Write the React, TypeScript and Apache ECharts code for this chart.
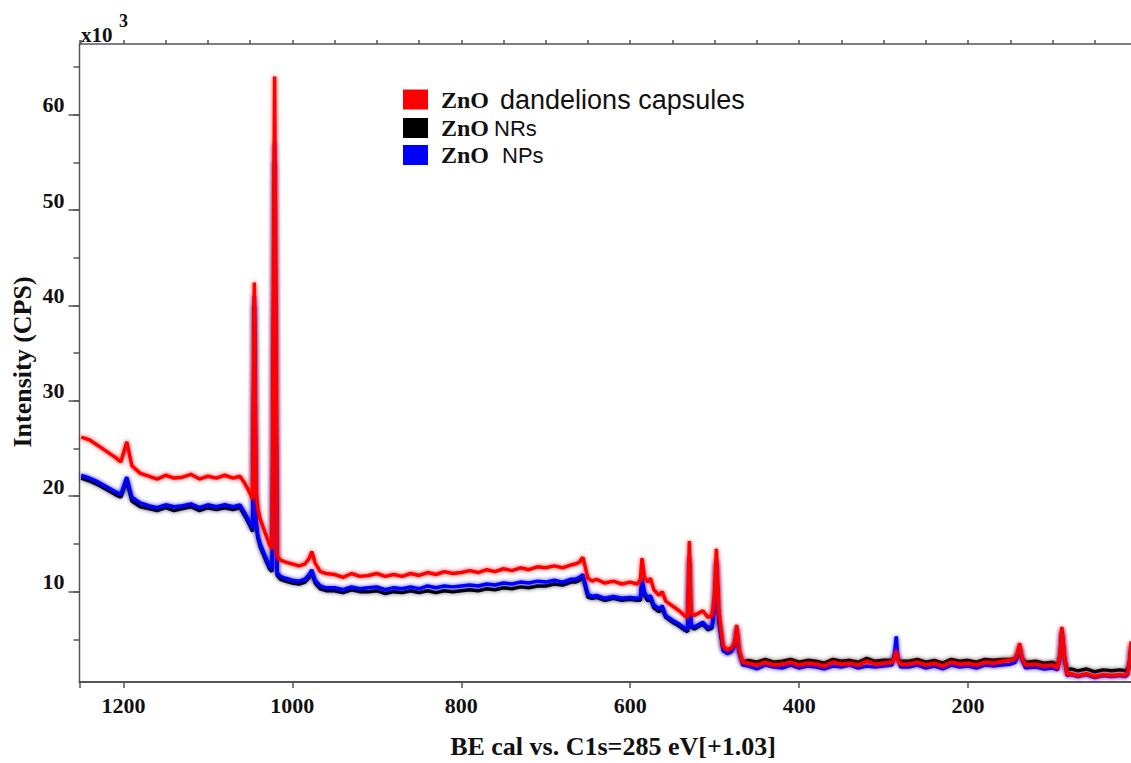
import React, { useEffect, useRef } from 'react';
import * as echarts from 'echarts';

// Binding energy (eV), shared by the three spectra
const energy = [
  // high-BE plateau
  1250, 1240, 1230, 1220, 1210, 1203, 1196, 1190, 1180, 1170, 1160, 1150, 1140, 1130, 1120, 1110, 1100, 1090, 1080, 1070, 1062,
  // Zn 2p region
  1056, 1050, 1047, 1045, 1043, 1041, 1038, 1032, 1027, 1024, 1021, 1018, 1014, 1008, 1000, 992, 985, 980, 977, 973, 967, 960,
  // mid plateau
  950, 940, 930, 920, 910, 900, 890, 880, 870, 860, 850, 840, 830, 820, 810, 800, 790, 780, 770, 760, 750, 740, 730, 720, 710,
  700, 690, 680, 670, 665, 660, 656, 650, 645, 640, 630, 620, 610, 600, 592,
  // Auger / O 1s region
  588, 586, 583, 579, 576, 572, 566, 562, 558, 550, 542, 536, 532, 530, 528, 524, 514, 508, 503, 500, 498, 495, 490, 485, 480,
  476, 474, 471, 467,
  // low-BE baseline
  460, 450, 440, 430, 420, 410, 400, 390, 380, 370, 360, 350, 340, 330, 320, 310, 300, 290, 287, 285, 283, 280,
  270, 260, 250, 240, 230, 220, 210, 200, 190, 180, 170, 160, 150, 144, 141, 139, 136, 132, 120, 110, 100,
  94, 91, 89, 86, 83, 78, 70, 60, 50, 40, 30, 20, 14, 11, 9, 7,
];

// Intensity, x10^3 CPS
const capsules = [
  26.2, 25.9, 25.3, 24.7, 24.1, 23.6, 25.7, 23.2, 22.4, 22.1, 21.8, 22.2, 21.9, 22.0, 22.3, 21.8, 22.1, 21.9, 22.2, 21.9, 22.1,
  21.3, 20.3, 19.7, 42.4, 20.6, 18.8, 17.6, 16.1, 14.9, 14.5, 64.0, 13.7, 13.3, 13.1, 12.9, 12.7, 12.9, 13.5, 14.2, 13.0, 12.1, 11.9,
  11.8, 11.5, 11.9, 11.6, 11.7, 11.9, 11.6, 11.8, 11.6, 11.9, 11.7, 12.0, 11.8, 12.1, 11.9, 12.0, 12.2, 12.0, 12.3, 12.1, 12.4, 12.2, 12.5, 12.3, 12.6,
  12.5, 12.7, 12.5, 12.8, 12.9, 13.1, 13.6, 11.4, 11.1, 11.3, 10.9, 11.1, 10.8, 11.0, 10.8,
  11.2, 13.5, 11.5, 11.0, 11.4, 10.2, 9.6, 10.0, 9.0, 8.5, 8.0, 7.5, 7.3, 15.3, 7.8, 7.5, 8.0, 7.3, 7.5, 10.0, 14.5, 8.0, 4.3, 3.9, 4.1,
  4.8, 6.5, 4.0, 2.6,
  2.5, 2.3, 2.6, 2.3, 2.4, 2.6, 2.3, 2.5, 2.4, 2.2, 2.6, 2.4, 2.5, 2.3, 2.7, 2.4, 2.5, 2.6, 3.1, 3.8, 2.8, 2.4,
  2.4, 2.6, 2.3, 2.5, 2.2, 2.6, 2.4, 2.5, 2.3, 2.6, 2.5, 2.7, 2.8, 3.0, 3.8, 4.6, 3.0, 2.3, 2.4, 2.2, 2.3,
  2.0, 3.6, 6.3, 3.4, 1.3, 1.4, 1.2, 1.4, 1.1, 1.3, 1.2, 1.3, 1.2, 1.4, 2.5, 4.8,
];

const nanorods = [
  21.9, 21.6, 21.2, 20.7, 20.2, 19.9, 21.6, 19.5, 18.9, 18.7, 18.5, 18.8, 18.5, 18.7, 18.9, 18.5, 18.8, 18.6, 18.8, 18.6, 18.8,
  17.9, 16.9, 16.3, 40.0, 17.2, 15.7, 14.7, 13.4, 12.4, 12.1, 55.0, 11.7, 11.3, 11.1, 10.9, 10.8, 11.0, 11.5, 12.0, 10.9, 10.3, 10.1,
  10.1, 9.9, 10.2, 10.0, 10.0, 10.1, 9.8, 10.0, 9.9, 10.1, 9.9, 10.1, 9.9, 10.1, 10.0, 10.1, 10.2, 10.1, 10.3, 10.2, 10.4, 10.3, 10.5, 10.4, 10.6,
  10.6, 10.8, 10.7, 11.0, 11.0, 11.2, 11.5, 9.4, 9.3, 9.4, 9.1, 9.3, 9.1, 9.2, 9.1,
  9.1, 11.0, 9.6, 9.0, 9.3, 8.3, 7.9, 8.2, 7.3, 6.8, 6.4, 6.0, 5.8, 13.2, 6.3, 6.1, 6.6, 6.0, 6.2, 8.8, 13.0, 6.8, 3.8, 3.6, 3.8,
  4.5, 6.0, 3.7, 2.6,
  2.8, 2.6, 2.9, 2.6, 2.7, 2.9, 2.6, 2.8, 2.7, 2.5, 2.9, 2.7, 2.8, 2.6, 3.0, 2.7, 2.8, 2.8, 3.1, 3.4, 2.9, 2.7,
  2.7, 2.9, 2.6, 2.8, 2.5, 2.9, 2.7, 2.8, 2.6, 2.9, 2.8, 2.9, 2.9, 3.0, 3.5, 4.2, 3.0, 2.6, 2.7, 2.5, 2.6,
  2.3, 3.4, 5.8, 3.2, 1.8, 1.9, 1.7, 1.9, 1.6, 1.8, 1.7, 1.8, 1.7, 1.9, 2.6, 4.2,
];

const nanoparticles = [
  22.2, 21.9, 21.5, 21.0, 20.5, 20.2, 22.0, 19.9, 19.3, 19.0, 18.8, 19.1, 18.9, 19.0, 19.2, 18.8, 19.1, 18.9, 19.1, 18.9, 19.1,
  18.2, 17.2, 16.6, 41.0, 17.5, 16.0, 15.0, 13.7, 12.7, 12.4, 57.0, 12.0, 11.6, 11.4, 11.2, 11.1, 11.3, 11.8, 12.3, 11.2, 10.6, 10.4,
  10.4, 10.2, 10.5, 10.3, 10.4, 10.5, 10.2, 10.4, 10.3, 10.5, 10.3, 10.6, 10.4, 10.6, 10.5, 10.6, 10.7, 10.6, 10.8, 10.7, 10.9, 10.8, 11.0, 10.9, 11.1,
  11.0, 11.2, 11.0, 11.3, 11.3, 11.5, 11.8, 9.7, 9.5, 9.6, 9.3, 9.5, 9.3, 9.4, 9.3,
  9.4, 11.4, 9.9, 9.3, 9.6, 8.6, 8.2, 8.5, 7.5, 7.0, 6.6, 6.2, 6.0, 13.7, 6.5, 6.3, 6.8, 6.2, 6.4, 9.0, 13.3, 7.0, 3.9, 3.5, 3.7,
  4.5, 6.2, 3.6, 2.3,
  2.2, 1.9, 2.3, 2.1, 2.0, 2.3, 2.0, 2.2, 2.1, 1.9, 2.2, 2.1, 2.3, 2.0, 2.2, 2.1, 2.2, 2.3, 3.6, 5.3, 3.0, 2.1,
  2.1, 2.3, 2.0, 2.2, 1.9, 2.3, 2.1, 2.2, 2.0, 2.3, 2.2, 2.3, 2.4, 2.6, 3.4, 4.3, 2.8, 2.0, 2.1, 1.9, 2.0,
  1.8, 3.4, 6.0, 3.1, 1.2, 1.3, 1.1, 1.3, 1.0, 1.2, 1.1, 1.2, 1.1, 1.3, 2.3, 4.4,
];

const seriesNames = ['ZnO dandelions capsules', 'ZnO NRs', 'ZnO NPs'];
const seriesColors = ['#ff0000', '#000000', '#0000ff'];
const seriesShadows = ['rgba(255,0,0,0.75)', 'rgba(0,0,0,0.6)', 'rgba(0,0,255,0.7)'];

const SERIF = "'Liberation Serif', 'Times New Roman', serif";
const SANS = "'Liberation Sans', Arial, sans-serif";
const AXIS_COLOR = '#555';

const toPairs = (vals: number[]) => energy.map((e, i) => [e, vals[i]]);

export default function App() {
  const ref = useRef<HTMLDivElement>(null);

  useEffect(() => {
    if (!ref.current) return;
    const chart = echarts.init(ref.current, undefined, { renderer: 'svg' });

    const plotLeft = 79.5;
    const plotTop = 44;
    const plotBottom = 682;
    const yMin = 0.53;
    const yMax = 67.4;
    const pxPerUnit = (plotBottom - plotTop) / (yMax - yMin);
    const yPix = (v: number) => plotBottom - (v - yMin) * pxPerUnit;

    const labelFont = { fontFamily: SERIF, fontWeight: 'bold' as const, fontSize: 22, color: '#111' };

    const option: any = {
      animation: false,
      backgroundColor: '#fff',
      grid: [
        {
          left: plotLeft, top: plotTop, width: 1057.5, height: plotBottom - plotTop,
          show: true, borderColor: AXIS_COLOR, borderWidth: 1.5, backgroundColor: 'transparent',
          outerBoundsMode: 'none', containLabel: false,
        },
        {
          left: plotLeft, top: yPix(60), width: 100, height: yPix(10) - yPix(60),
          outerBoundsMode: 'none', containLabel: false,
        },
        {
          left: plotLeft, top: yPix(65), width: 100, height: yPix(5) - yPix(65),
          outerBoundsMode: 'none', containLabel: false,
        },
      ],
      xAxis: [
        {
          gridIndex: 0, type: 'value', inverse: true, min: 0, max: 1252, interval: 200,
          axisLine: { show: true, lineStyle: { color: AXIS_COLOR, width: 2 } },
          axisTick: { show: true, length: 6, lineStyle: { color: AXIS_COLOR, width: 1.5 } },
          axisLabel: {
            ...labelFont, margin: 12,
            formatter: (v: number) => (v > 0 && v % 200 === 0 ? String(v) : ''),
          },
          splitLine: { show: false },
        },
        {
          gridIndex: 0, type: 'value', inverse: true, min: 0, max: 1252, interval: 50,
          axisLine: { show: false },
          axisTick: { show: true, length: 4, lineStyle: { color: AXIS_COLOR, width: 1.5 } },
          axisLabel: { show: false },
          splitLine: { show: false },
        },
        { gridIndex: 1, type: 'value', show: false, min: 0, max: 1 },
        { gridIndex: 2, type: 'value', show: false, min: 0, max: 1 },
      ],
      yAxis: [
        {
          gridIndex: 0, type: 'value', min: yMin, max: yMax,
          axisLine: { show: true, lineStyle: { color: AXIS_COLOR, width: 2 } },
          axisTick: { show: false }, axisLabel: { show: false }, splitLine: { show: false },
        },
        {
          gridIndex: 1, type: 'value', min: 10, max: 60, interval: 10,
          axisLine: { show: false },
          axisTick: { show: true, length: 11, lineStyle: { color: AXIS_COLOR, width: 1.5 } },
          axisLabel: { ...labelFont, margin: 15, verticalAlign: 'bottom', lineHeight: 20 },
          splitLine: { show: false },
        },
        {
          gridIndex: 2, type: 'value', min: 5, max: 65, interval: 5,
          axisLine: { show: false },
          axisTick: { show: true, length: 6, lineStyle: { color: AXIS_COLOR, width: 1.5 } },
          axisLabel: { show: false },
          splitLine: { show: false },
        },
      ],
      legend: {
        orient: 'vertical', left: 403, top: 86, padding: 0,
        itemWidth: 25, itemHeight: 20, itemGap: 3,
        icon: 'rect', selectedMode: false,
        data: seriesNames,
        formatter: (name: string) => {
          const rest = name.replace('ZnO ', '');
          const key = rest === 'NRs' ? 'rods' : rest === 'NPs' ? 'parts' : 'caps';
          return `{zno|ZnO}{${key}|${rest}}`;
        },
        textStyle: {
          lineHeight: 20,
          rich: {
            zno: { fontFamily: SERIF, fontWeight: 'bold', fontSize: 24, lineHeight: 20, color: '#111', padding: [0, 0, 0, 8] },
            caps: { fontFamily: SANS, fontSize: 27, lineHeight: 20, color: '#111', padding: [0, 0, 0, 11] },
            rods: { fontFamily: SANS, fontSize: 22, lineHeight: 20, color: '#111', padding: [0, 0, 0, 5] },
            parts: { fontFamily: SANS, fontSize: 22, lineHeight: 20, color: '#111', padding: [0, 0, 0, 13] },
          },
        },
      },
      graphic: [
        {
          type: 'text', x: 22, y: 362, rotation: Math.PI / 2,
          style: { text: 'Intensity (CPS)', fontFamily: SERIF, fontWeight: 'bold', fontSize: 26, fill: '#111', align: 'center', verticalAlign: 'middle' },
        },
        {
          type: 'text', x: 613, y: 746,
          style: { text: 'BE cal vs. C1s=285 eV[+1.03]', fontFamily: SERIF, fontWeight: 'bold', fontSize: 26, fill: '#111', align: 'center', verticalAlign: 'middle' },
        },
        {
          type: 'text', x: 81, y: 45,
          style: { text: 'x10', fontFamily: SERIF, fontWeight: 'bold', fontSize: 21, fill: '#111', align: 'left', verticalAlign: 'bottom' },
        },
        {
          type: 'text', x: 119, y: 12,
          style: { text: '3', fontFamily: SERIF, fontWeight: 'bold', fontSize: 18, fill: '#111', align: 'left', verticalAlign: 'top' },
        },
      ],
      series: [
        { name: seriesNames[1], vals: nanorods, color: seriesColors[1], shadow: seriesShadows[1] },
        { name: seriesNames[2], vals: nanoparticles, color: seriesColors[2], shadow: seriesShadows[2] },
        { name: seriesNames[0], vals: capsules, color: seriesColors[0], shadow: seriesShadows[0] },
      ].map((s) => ({
        name: s.name,
        type: 'line',
        xAxisIndex: 0,
        yAxisIndex: 0,
        data: toPairs(s.vals),
        showSymbol: false,
        color: s.color,
        itemStyle: { color: s.color },
        lineStyle: { color: s.color, width: 3.5, shadowBlur: 4, shadowColor: s.shadow },
        clip: true,
      })),
    };

    chart.setOption(option);
    return () => chart.dispose();
  }, []);

  return (
    <div
      ref={ref}
      style={{ position: 'fixed', left: 0, top: 0, width: 1131, height: 763, background: '#fff' }}
    />
  );
}
